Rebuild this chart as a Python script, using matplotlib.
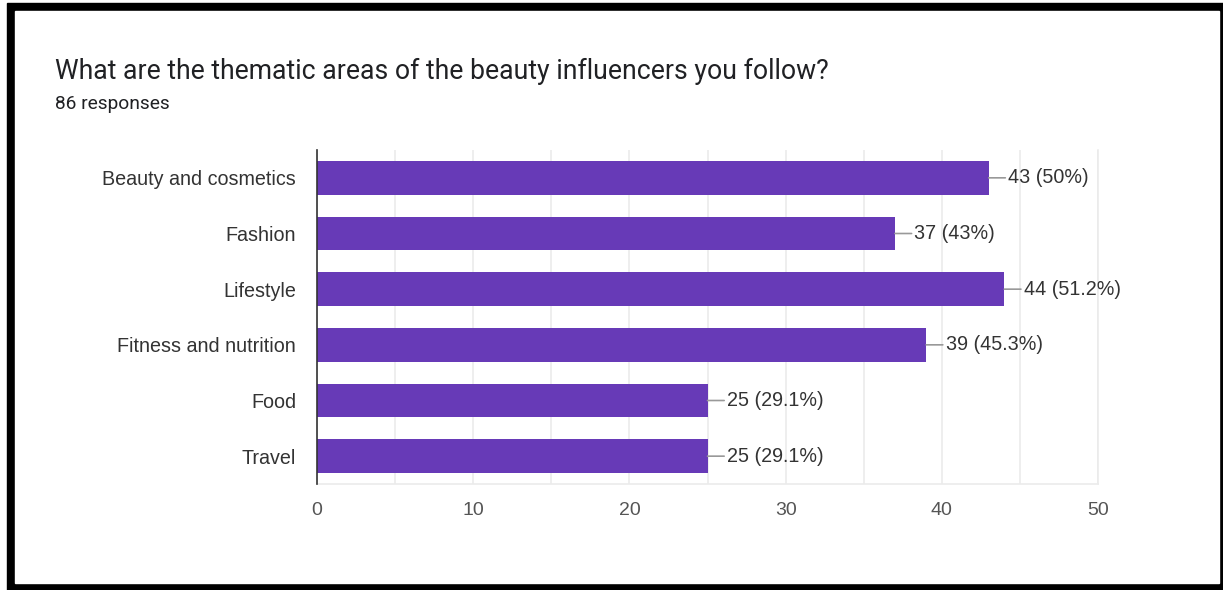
import matplotlib.pyplot as plt
from matplotlib.patches import Rectangle
from matplotlib.ticker import MultipleLocator

# survey answers (multiple choice, checkbox question)
categories = ['Beauty and cosmetics', 'Fashion', 'Lifestyle',
              'Fitness and nutrition', 'Food', 'Travel']
counts = [43, 37, 44, 39, 25, 25]
total_responses = 86
xticks = [0, 10, 20, 30, 40, 50]

BAR = '#673ab7'
W, H = 1223, 590


def pct_label(n, total):
    p = round(100 * n / total, 1)
    s = ('%.1f' % p).rstrip('0').rstrip('.')
    return '%d (%s%%)' % (n, s)


fig = plt.figure(figsize=(W / 100, H / 100), dpi=100)

# black frame around the card
def frect(x0, y0, x1, y1, color):
    fig.patches.append(Rectangle((x0 / W, 1 - y1 / H), (x1 - x0) / W, (y1 - y0) / H,
                                 transform=fig.transFigure, color=color, zorder=-10))

frect(7, 3, W, H, 'black')
frect(15, 11, 1219, 583, 'white')

fig.text(55 / W, 1 - 71 / H, 'What are the thematic areas of the beauty influencers you follow?',
         family='Roboto', fontsize=19.2, color='#202124', va='center')
fig.text(55 / W, 1 - 104 / H, '%d responses' % total_responses,
         family='Roboto', fontsize=13.8, color='#202124', va='center')

ax = fig.add_axes([317 / W, 106 / H, 781 / W, 334 / H])
y = range(len(categories))
ax.barh(y, counts, height=0.61, color=BAR, zorder=2)
ax.set_ylim(len(categories) - 0.5, -0.5)
ax.set_xlim(0, 50)
ax.set_yticks(list(y))
ax.set_yticklabels(categories, family='Liberation Sans', fontsize=14.2, color='#333333')
ax.set_xticks(xticks)
ax.set_xticklabels([str(t) for t in xticks], family='Liberation Sans', fontsize=14, color='#555555')
ax.xaxis.set_minor_locator(MultipleLocator(5))
ax.tick_params(axis='both', which='both', length=0)
ax.tick_params(axis='y', pad=15)
ax.tick_params(axis='x', pad=13)
ax.grid(axis='x', which='both', color='#ebebeb', linewidth=1.2, zorder=0)

for s in ['top', 'right', 'bottom']:
    ax.spines[s].set_color('#ebebeb')
    ax.spines[s].set_linewidth(1.2)
ax.spines['top'].set_visible(False)
ax.spines['left'].set_color('#333333')
ax.spines['left'].set_linewidth(1.2)
ax.spines['left'].set_zorder(3)

for i, n in enumerate(counts):
    ax.annotate(pct_label(n, total_responses), xy=(n, i), xytext=(14, 0),
                textcoords='offset points', va='center', ha='left',
                family='Liberation Sans', fontsize=14.2, color='#333333',
                arrowprops=dict(arrowstyle='-', color='#999999', lw=1.2,
                                shrinkA=0, shrinkB=0))

fig.savefig('out.png', dpi=100)
